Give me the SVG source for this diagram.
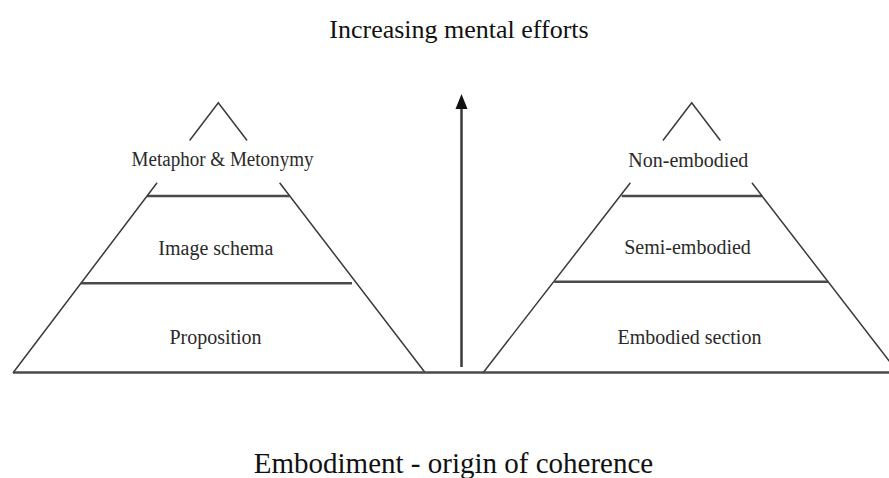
<svg xmlns="http://www.w3.org/2000/svg" width="889" height="478" viewBox="0 0 889 478">
<style>
.ln{stroke:#3a3a3a;stroke-width:1.5;fill:none;stroke-linecap:round}
.bar{stroke:#4a4a4a;stroke-width:2.5;fill:none}
.lbl{font-family:"Liberation Serif","Times New Roman",serif;font-size:20px;fill:#2a2a2a;text-anchor:middle}
.ttl{font-family:"Liberation Serif","Times New Roman",serif;fill:#111;text-anchor:middle}
</style>
<rect width="889" height="478" fill="#fff"/>
<g id="title-top"><text class="ttl" x="459" y="38" font-size="26">Increasing mental efforts</text></g>
<g id="title-bottom"><text class="ttl" x="453.5" y="473" font-size="29">Embodiment - origin of coherence</text></g>

<g id="left-pyramid">
  <g id="left-apex">
    <polyline class="ln" points="190,140 218.3,102.7 246.7,140"/>
    <text class="lbl" x="222.5" y="166" font-size="18" textLength="182" lengthAdjust="spacingAndGlyphs">Metaphor &amp; Metonymy</text>
  </g>
  <g id="left-middle">
    <line class="bar" x1="147" y1="196" x2="289.5" y2="196"/>
    <text class="lbl" x="215.8" y="255">Image schema</text>
  </g>
  <g id="left-base">
    <line class="ln" x1="156.7" y1="183.3" x2="13.3" y2="372.5"/>
    <line class="ln" x1="280" y1="183.3" x2="425" y2="372.5"/>
    <line class="bar" x1="80.6" y1="283.3" x2="352" y2="283.3"/>
    <text class="lbl" x="215.5" y="344">Proposition</text>
  </g>
</g>

<g id="right-pyramid">
  <g id="right-apex">
    <polyline class="ln" points="663.3,140 691.7,102.7 720,140"/>
    <text class="lbl" x="688.3" y="167">Non-embodied</text>
  </g>
  <g id="right-middle">
    <line class="bar" x1="621.7" y1="196" x2="762" y2="196"/>
    <text class="lbl" x="687.5" y="254">Semi-embodied</text>
  </g>
  <g id="right-base">
    <line class="ln" x1="630" y1="183.3" x2="483.3" y2="372.5"/>
    <line class="ln" x1="752.3" y1="183.3" x2="898" y2="372.5"/>
    <line class="bar" x1="554.3" y1="281.7" x2="828.3" y2="281.7"/>
    <text class="lbl" x="689.5" y="344">Embodied section</text>
  </g>
</g>

<g id="connectors">
  <line class="bar" x1="13" y1="372.5" x2="889" y2="372.5"/>
  <line x1="461.5" y1="367" x2="461.5" y2="106" stroke="#3a3a3a" stroke-width="2.5"/>
  <polygon points="461.5,94 455.5,109 467.5,109" fill="#111"/>
</g>
</svg>
